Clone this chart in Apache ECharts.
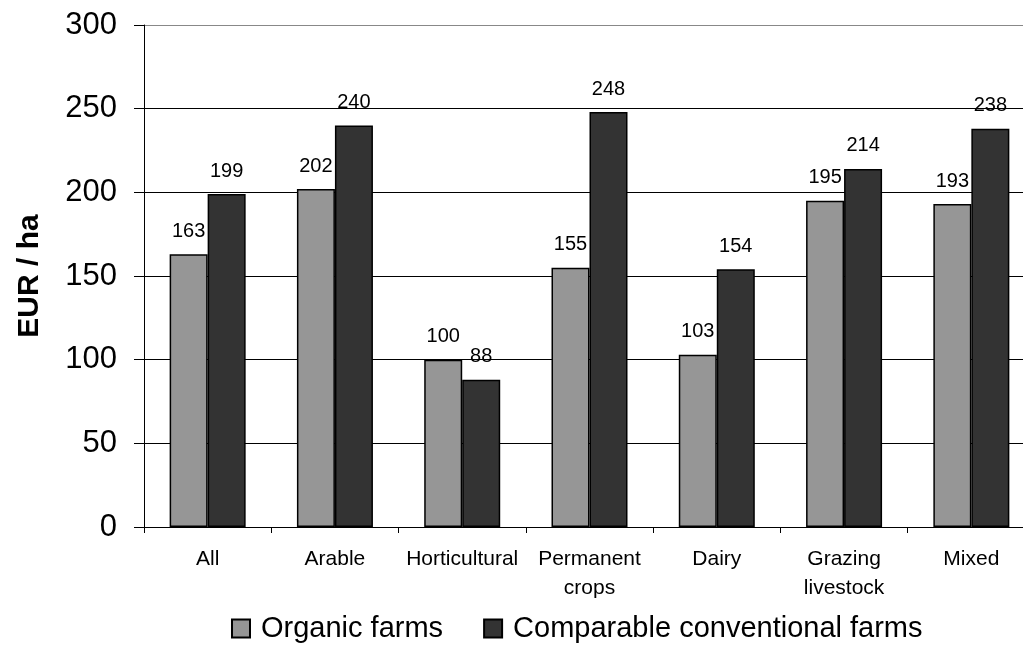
<!DOCTYPE html>
<html>
<head>
<meta charset="utf-8">
<script src="https://cdn.jsdelivr.net/npm/echarts@6/dist/echarts.min.js"></script>
<style>html,body{margin:0;padding:0;background:#fff;}#c{width:1023px;height:656px;}</style>
</head>
<body>
<div id="c"></div>
<script>
const categories = ['All', 'Arable', 'Horticultural', 'Permanent\ncrops', 'Dairy', 'Grazing\nlivestock', 'Mixed'];
const organic = [163, 202, 100, 155, 103, 195, 193];
const conventional = [199, 240, 88, 248, 154, 214, 238];
const yTicks = [0, 50, 100, 150, 200, 250, 300];
const seriesNames = ['Organic farms', 'Comparable conventional farms'];

const FONT = '"Liberation Sans", Arial, sans-serif';
const chart = echarts.init(document.getElementById('c'), null, {renderer: 'canvas'});
const labelCfg = {show: true, position: 'top', distance: 13, color: '#000', fontSize: 20, fontFamily: FONT};
chart.setOption({
  animation: false,
  backgroundColor: '#fff',
  grid: {left: 144, top: 25, height: 502, width: 891, containLabel: false, outerBoundsMode: 'none'},
  legend: {
    data: seriesNames,
    top: 609,
    left: 226,
    itemWidth: 18,
    itemHeight: 18,
    itemGap: 40,
    icon: 'rect',
    textStyle: {fontSize: 29, fontFamily: FONT, color: '#000', padding: [0, 0, 0, 6]}
  },
  xAxis: {
    type: 'category',
    data: categories,
    axisLine: {show: true, lineStyle: {color: '#000', width: 1}},
    axisTick: {show: true, length: 6, lineStyle: {color: '#000'}},
    axisLabel: {fontSize: 21, fontFamily: FONT, color: '#000', margin: 18, lineHeight: 29, interval: 0}
  },
  yAxis: {
    type: 'value',
    min: yTicks[0],
    max: yTicks[yTicks.length - 1],
    interval: 50,
    name: 'EUR / ha',
    nameLocation: 'middle',
    nameGap: 99,
    nameTextStyle: {fontSize: 30, fontWeight: 'bold', fontFamily: FONT, color: '#000'},
    axisLine: {show: true, lineStyle: {color: '#000', width: 1}},
    axisTick: {show: true, length: 10, lineStyle: {color: '#000'}},
    axisLabel: {fontSize: 31, fontFamily: FONT, color: '#000', margin: 27},
    splitLine: {show: true, lineStyle: {color: ['#000', '#000', '#000', '#000', '#000', '#000', '#888'], width: 1}}
  },
  series: [
    {
      name: seriesNames[0], type: 'bar', data: organic,
      barWidth: 38, barGap: '0%',
      itemStyle: {color: '#969696', borderColor: '#000', borderWidth: 1.5},
      label: labelCfg
    },
    {
      name: seriesNames[1], type: 'bar', data: conventional,
      barWidth: 38, barGap: '0%',
      itemStyle: {color: '#333333', borderColor: '#000', borderWidth: 1.5},
      label: labelCfg
    }
  ]
});
</script>
</body>
</html>
